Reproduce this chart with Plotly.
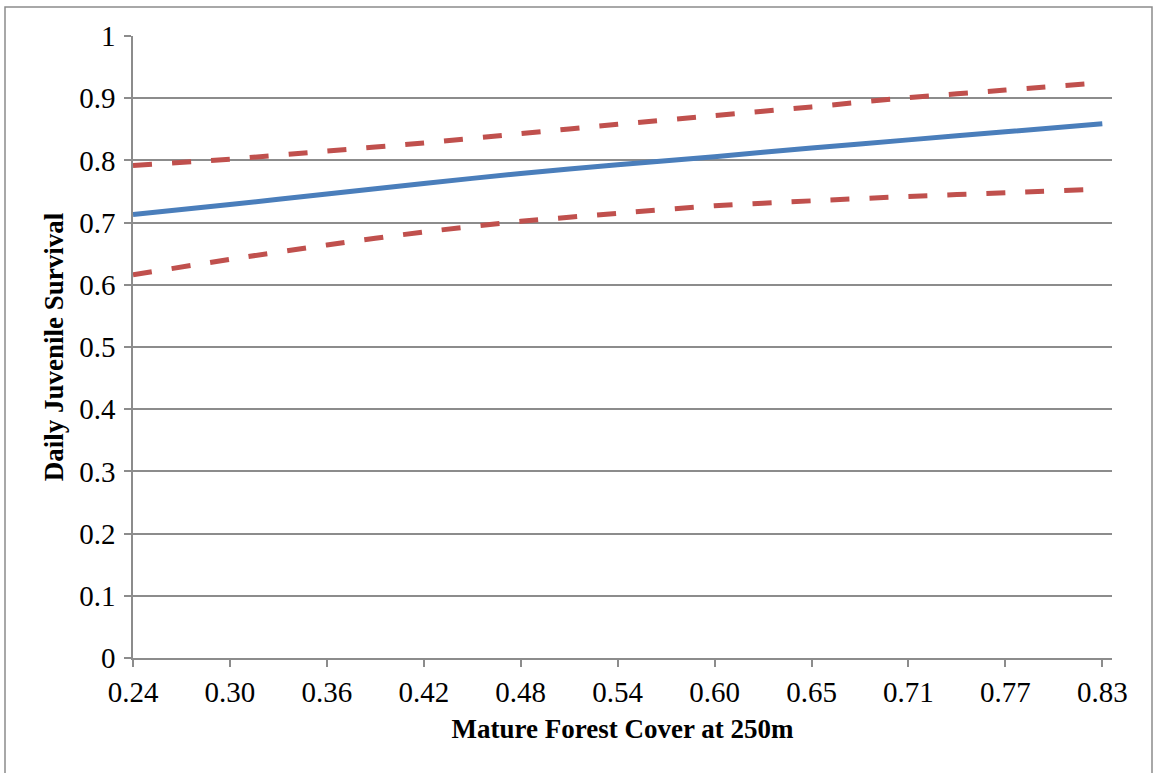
import plotly.graph_objects as go

# Category labels on the x axis (Mature Forest Cover at 250m)
x_labels = ["0.24", "0.30", "0.36", "0.42", "0.48", "0.54", "0.60", "0.65", "0.71", "0.77", "0.83"]
x_pos = list(range(len(x_labels)))

# Estimated daily juvenile survival
survival = [0.713, 0.729, 0.746, 0.763, 0.779, 0.793, 0.806, 0.820, 0.833, 0.846, 0.859]
upper_ci = [0.792, 0.802, 0.815, 0.828, 0.843, 0.858, 0.872, 0.886, 0.901, 0.913, 0.925]
lower_ci = [0.616, 0.641, 0.664, 0.685, 0.702, 0.715, 0.727, 0.735, 0.742, 0.748, 0.754]

y_ticks = [0, 0.1, 0.2, 0.3, 0.4, 0.5, 0.6, 0.7, 0.8, 0.9, 1]
y_ticktext = ["0", "0.1", "0.2", "0.3", "0.4", "0.5", "0.6", "0.7", "0.8", "0.9", "1"]

BLUE = "#4A7EBB"
RED = "#C0504D"
GRID = "#8C8C8C"
FONT = "Liberation Serif"

fig = go.Figure()
fig.add_trace(go.Scatter(x=x_pos, y=upper_ci, mode="lines",
                         line=dict(color=RED, width=5, dash="19px,20px", shape="spline", smoothing=0.5),
                         showlegend=False, hoverinfo="skip"))
fig.add_trace(go.Scatter(x=x_pos, y=lower_ci, mode="lines",
                         line=dict(color=RED, width=5, dash="19px,20px", shape="spline", smoothing=0.5),
                         showlegend=False, hoverinfo="skip"))
fig.add_trace(go.Scatter(x=x_pos, y=survival, mode="lines",
                         line=dict(color=BLUE, width=5, shape="spline", smoothing=0.5),
                         showlegend=False, hoverinfo="skip"))

L, R, T, B = 133, 1160 - 1112, 36, 773 - 658
pw, ph = 1160 - L - R, 773 - T - B

fig.update_layout(
    width=1160, height=773,
    margin=dict(l=L, r=R, t=T, b=B),
    paper_bgcolor="white", plot_bgcolor="white",
    font=dict(family=FONT, color="black", size=29),
    xaxis=dict(
        range=[0, 10.1], tickmode="array", tickvals=x_pos, ticktext=x_labels,
        showgrid=False, zeroline=False, showline=True, linecolor=GRID, linewidth=1.5,
        ticks="outside", ticklen=7, tickcolor=GRID, tickwidth=1.5,
        tickfont=dict(family=FONT, size=29, color="black"),
        title=dict(text="<b>Mature Forest Cover at 250m</b>", font=dict(family=FONT, size=27), standoff=13),
    ),
    yaxis=dict(
        range=[0, 1], tickmode="array", tickvals=y_ticks, ticktext=y_ticktext,
        showgrid=True, gridcolor=GRID, gridwidth=1.5, zeroline=False,
        showline=True, linecolor=GRID, linewidth=1.5,
        ticks="outside", ticklen=7, tickcolor=GRID, tickwidth=1.5, ticklabelstandoff=3,
        tickfont=dict(family=FONT, size=29, color="black"),
        title=dict(text="<b>Daily Juvenile Survival</b>", font=dict(family=FONT, size=27), standoff=8),
    ),
    shapes=[dict(type="rect", xref="paper", yref="paper",
                 x0=(5 - L) / pw, x1=(1152 - L) / pw,
                 y0=(658 - 790) / ph, y1=(658 - 7) / ph,
                 line=dict(color="#8C8C8C", width=1.5), fillcolor="rgba(0,0,0,0)", layer="below")],
)

fig.write_html("out.html")
